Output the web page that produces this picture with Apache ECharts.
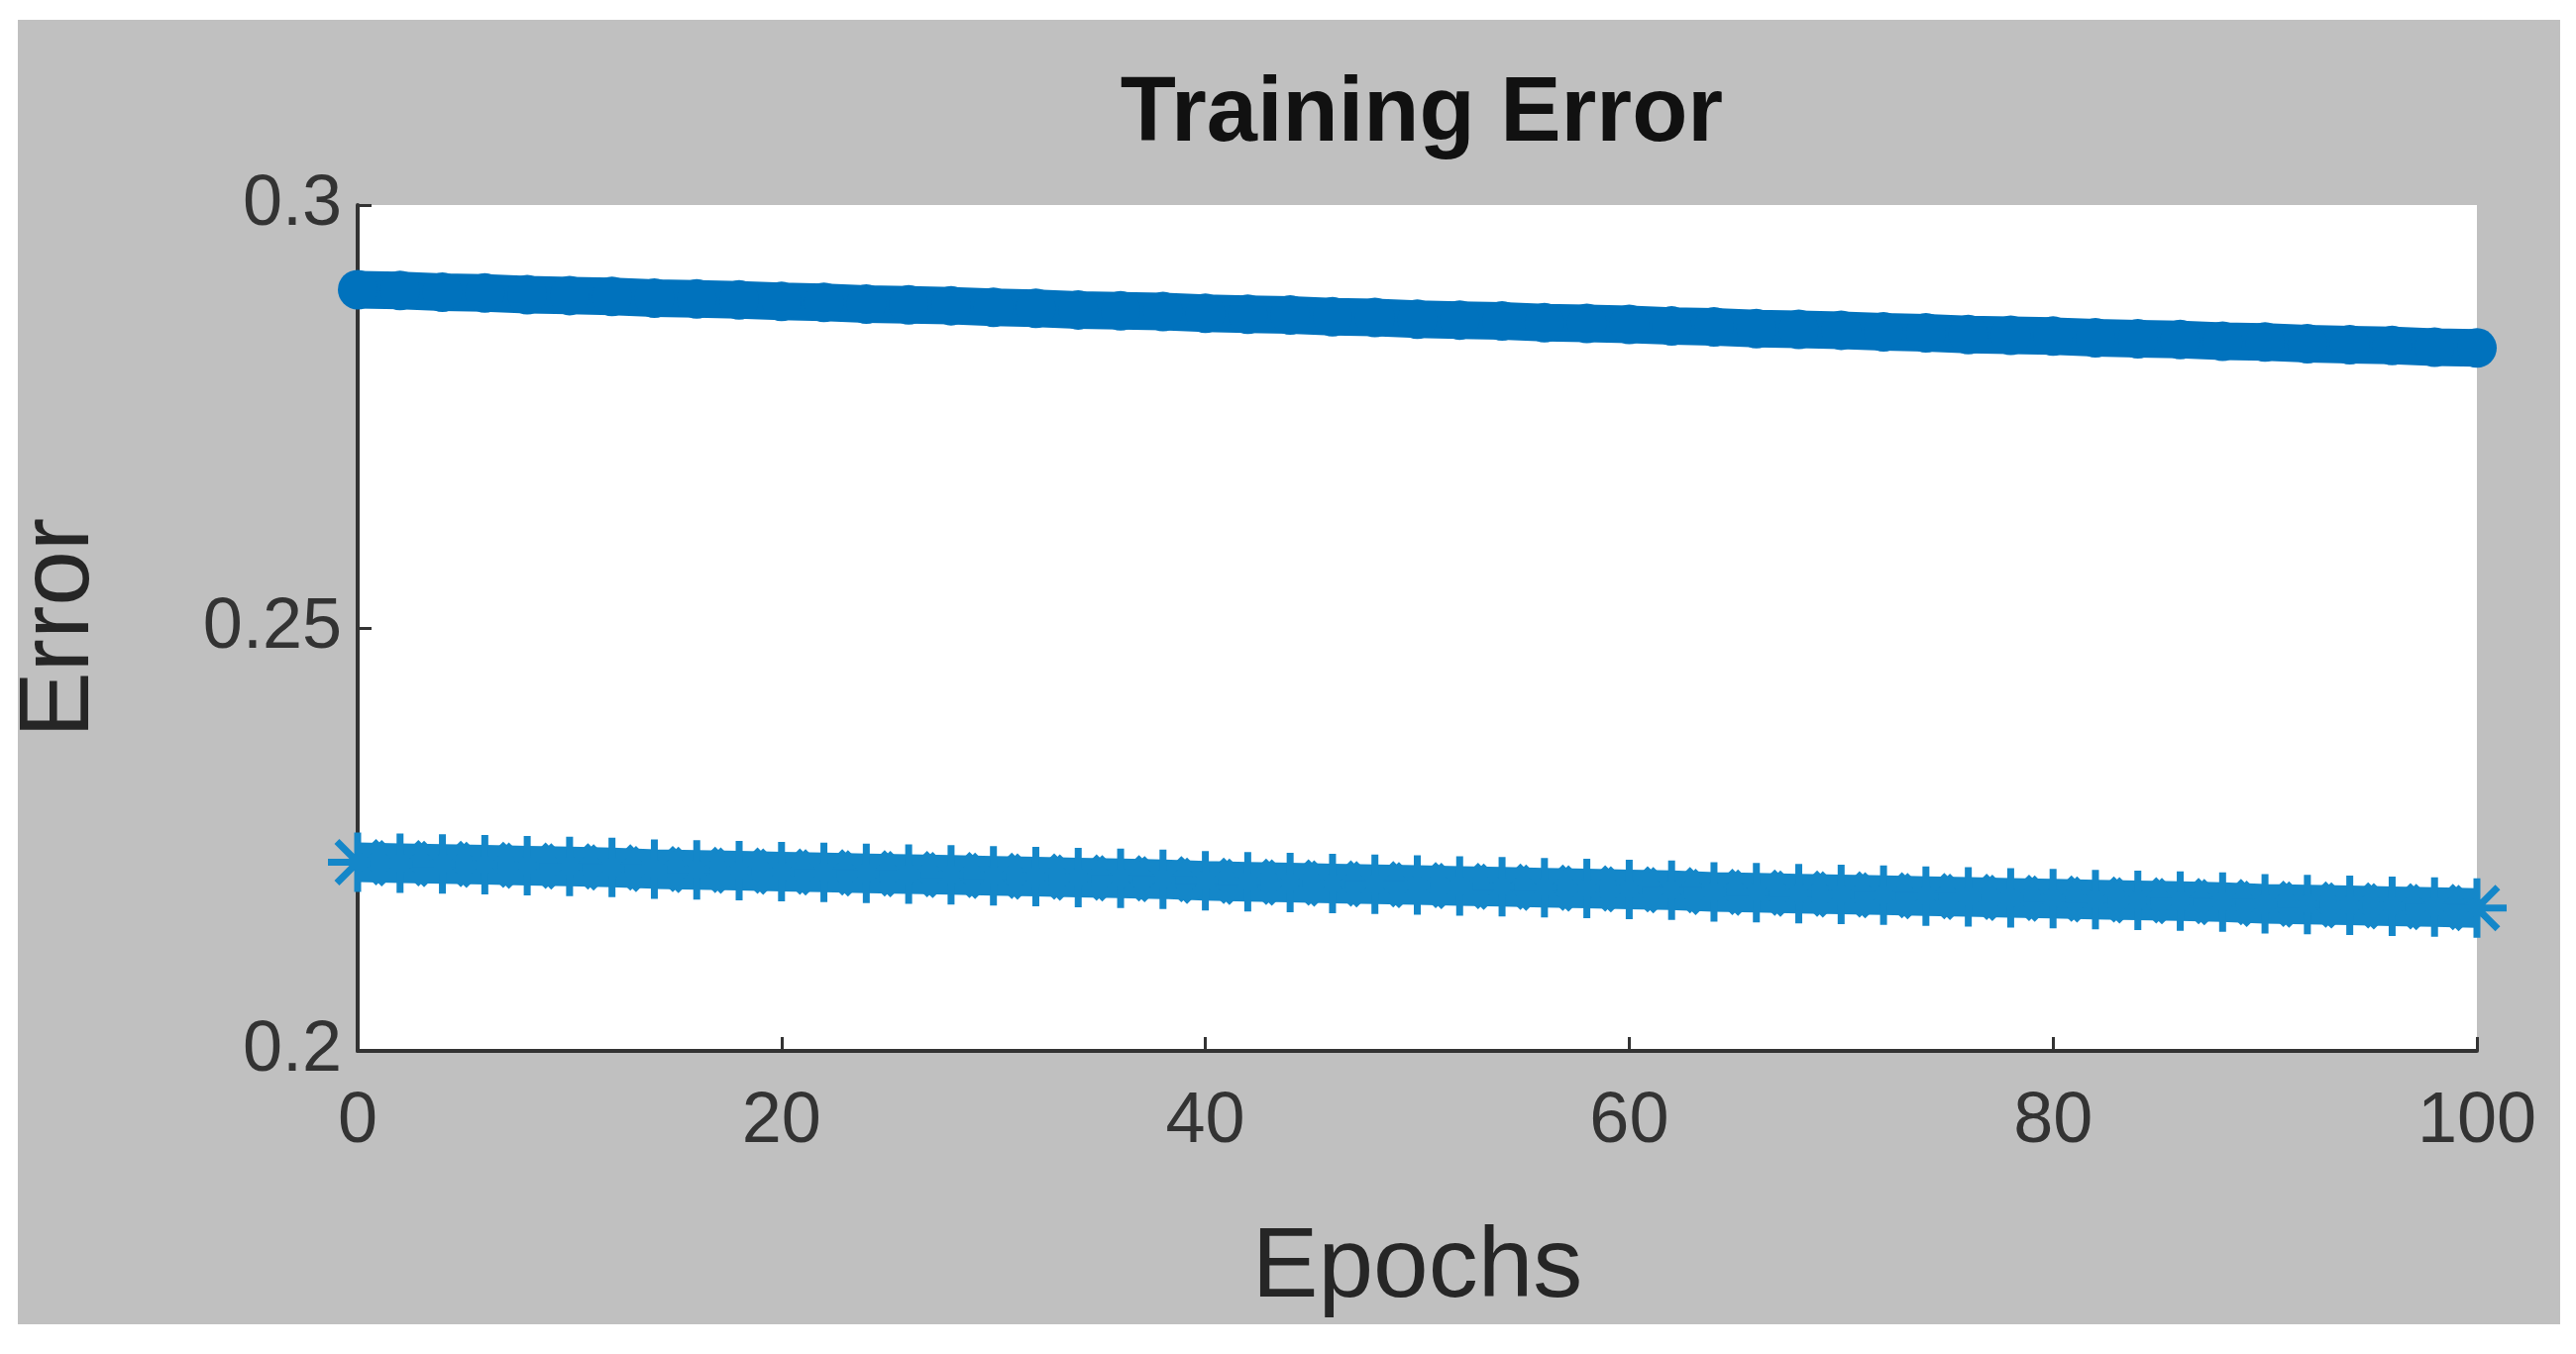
<!DOCTYPE html>
<html>
<head>
<meta charset="utf-8">
<script src="https://cdn.jsdelivr.net/npm/echarts@6/dist/echarts.min.js"></script>
<style>
html, body { margin: 0; padding: 0; background: #fff; }
#chart { width: 2600px; height: 1367px; position: relative; }
#frame { position: absolute; left: 0; top: 0; width: 2600px; height: 1367px; box-sizing: border-box;
  border-style: solid; border-color: #fff; border-width: 20px 16px 30px 18px; pointer-events: none; }
</style>
</head>
<body>
<div id="chart"></div>
<div id="frame"></div>
<script>
const epochs = [];
for (let e = 0; e <= 100; e += 2) epochs.push(e);

const errorCircle = [
    0.2900, 0.2899, 0.2897, 0.2896, 0.2894, 0.2893, 0.2892, 0.2890, 0.2889, 0.2888,
    0.2886, 0.2885, 0.2883, 0.2882, 0.2881, 0.2879, 0.2878, 0.2876, 0.2875, 0.2874,
    0.2872, 0.2871, 0.2870, 0.2868, 0.2867, 0.2865, 0.2864, 0.2863, 0.2861, 0.2860,
    0.2859, 0.2857, 0.2856, 0.2854, 0.2853, 0.2852, 0.2850, 0.2849, 0.2847, 0.2846,
    0.2845, 0.2843, 0.2842, 0.2841, 0.2839, 0.2838, 0.2836, 0.2835, 0.2834, 0.2832, 0.2831
];
const errorStar = [
    0.2223, 0.2222, 0.2221, 0.2220, 0.2219, 0.2218, 0.2217, 0.2215, 0.2214, 0.2213,
    0.2212, 0.2211, 0.2210, 0.2209, 0.2208, 0.2207, 0.2206, 0.2205, 0.2204, 0.2203,
    0.2201, 0.2200, 0.2199, 0.2198, 0.2197, 0.2196, 0.2195, 0.2194, 0.2193, 0.2192,
    0.2191, 0.2190, 0.2188, 0.2187, 0.2186, 0.2185, 0.2184, 0.2183, 0.2182, 0.2181,
    0.2180, 0.2179, 0.2178, 0.2177, 0.2176, 0.2174, 0.2173, 0.2172, 0.2171, 0.2170, 0.2169
];
const xTicks = [0, 20, 40, 60, 80, 100];
const yTicks = [0.2, 0.25, 0.3];

const asterisk = 'path://M0,-10L0,10M-10,0L10,0M-7,-7L7,7M-7,7L7,-7';
const font = 'Arial, "Liberation Sans", sans-serif';

let chart = echarts.init(document.getElementById('chart'));
chart.setOption({
    backgroundColor: '#c0c0c0',
    animation: false,
    title: {
        text: 'Training Error',
        left: 1430, top: 66, textAlign: 'center',
        textStyle: { fontFamily: font, fontSize: 92, fontWeight: 'bold', color: '#111' }
    },
    grid: { left: 361, right: 100, top: 207, bottom: 306, show: true, backgroundColor: '#fff', borderWidth: 0 },
    xAxis: {
        type: 'value', min: 0, max: 100, interval: 20,
        name: 'Epochs', nameLocation: 'middle', nameGap: 170,
        nameTextStyle: { fontFamily: font, fontSize: 100, color: '#262626' },
        axisLine: { lineStyle: { color: '#333', width: 4 } },
        axisTick: { inside: true, length: 14, lineStyle: { color: '#333', width: 3 } },
        axisLabel: { fontFamily: font, fontSize: 72, color: '#333', margin: 36,
            formatter: v => xTicks.includes(v) ? String(v) : '' },
        splitLine: { show: false }
    },
    yAxis: {
        type: 'value', min: 0.2, max: 0.3, interval: 0.05,
        name: 'Error', nameLocation: 'middle', nameGap: 250, nameRotate: 90,
        nameTextStyle: { fontFamily: font, fontSize: 100, color: '#262626' },
        axisLine: { show: true, lineStyle: { color: '#333', width: 4 } },
        axisTick: { show: true, inside: true, length: 14, lineStyle: { color: '#333', width: 3 } },
        axisLabel: { fontFamily: font, fontSize: 72, color: '#333', margin: 16,
            formatter: v => { const t = yTicks.find(y => Math.abs(y - v) < 1e-9); return t === undefined ? '' : String(t); } },
        splitLine: { show: false }
    },
    series: [
        {
            type: 'line',
            data: epochs.map((e, i) => [e, errorCircle[i]]),
            symbol: 'circle', symbolSize: 40,
            lineStyle: { color: '#0072BD', width: 38 },
            itemStyle: { color: '#0072BD' }
        },
        {
            type: 'line',
            data: epochs.map((e, i) => [e, errorStar[i]]),
            symbol: asterisk, symbolSize: 60,
            lineStyle: { color: '#1487C9', width: 40 },
            itemStyle: { color: 'none', borderColor: '#1487C9', borderWidth: 7 }
        }
    ]
});
</script>
</body>
</html>
